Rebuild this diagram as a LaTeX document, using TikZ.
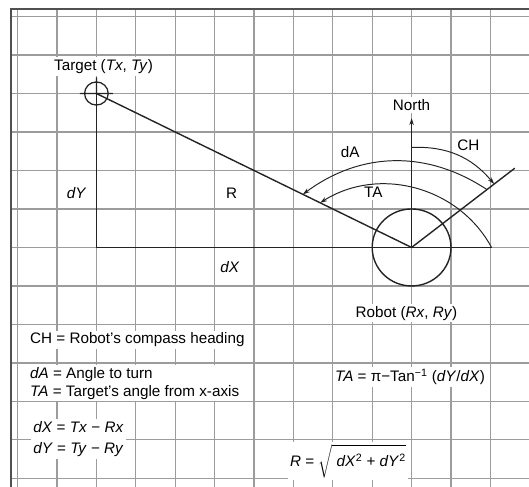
\documentclass[tikz,border=0pt]{standalone}
\usepackage{fontspec}
\setmainfont{Liberation Sans}
\usetikzlibrary{calc,arrows.meta}
\definecolor{gridgray}{HTML}{9C9C9C}
\definecolor{framegray}{HTML}{505050}
\definecolor{ink}{HTML}{232323}
\tikzset{lbl/.style={fill=white,inner sep=1.5pt,font=\fontsize{11}{13}\selectfont},
  tip/.style={-{Stealth[length=5pt,width=3.2pt]}},
  arcline/.style={ink,line width=.7pt}}

\begin{document}
\begin{tikzpicture}[x=1cm,y=0.977cm]
\useasboundingbox (-1.447,-11.22) rectangle (11.98,1.429);
\fill[white] (-1.447,-11.22) rectangle (11.98,1.429);
% grid paper
\foreach \u in {-1,...,11}{\draw[gridgray,line width=.8pt] (\u,1.195)--(\u,-11.22);}
\foreach \v in {1,0,...,-11}{\draw[gridgray,line width=.8pt] (-1.168,\v)--(11.98,\v);}
\draw[framegray,line width=1.8pt] (-1.168,-11.22)--(-1.168,1.195)--(11.98,1.195);
% labels
\node[lbl] (tgt) at (1.18,-.30) {Target (\textit{Tx}, \textit{Ty})};
\node[lbl] (dy) at (.5,-3.59) {\textit{dY}};
\node[lbl] (r) at (4.43,-3.59) {R};
\node[lbl] (dx) at (4.39,-5.5) {\textit{dX}};
\node[lbl] (dal) at (7.44,-2.51) {dA};
\node[lbl] (tal) at (8.03,-3.57) {TA};
\node[lbl] (chl) at (10.44,-2.34) {CH};
\node[lbl] (north) at (9,-1.30) {North};
\node[lbl] (robot) at (8.87,-6.71) {Robot (\textit{Rx}, \textit{Ry})};
\node[lbl,anchor=west] (leg1) at (-.74,-7.40) {CH = Robot's compass heading};
\node[lbl,anchor=west,align=left] (leg2) at (-.74,-8.525) {\textit{dA} = Angle to turn\\\textit{TA} = Target's angle from x-axis};
\node[lbl,anchor=west,align=left] (leg3) at (-.66,-9.98) {\textit{dX} = \textit{Tx} − \textit{Rx}\\[2.6pt]\textit{dY} = \textit{Ty} − \textit{Ry}};
\node[lbl] (fta) at (8.96,-8.36) {\textit{TA} = π−Tan\textsuperscript{−1} (\textit{dY}/\textit{dX})};
\node[lbl,anchor=west] (fr) at (5.86,-10.55) {\textit{R} = $\sqrt{\rule[-6pt]{0pt}{19pt}\;\mbox{\textit{dX}\textsuperscript{2} + \textit{dY}\textsuperscript{2}}}$};
% geometry
\coordinate (T) at (1,-1);
\coordinate (C) at (1,-5);
\coordinate (Rb) at (9,-5);
\coordinate (N) at (9,-1.64);
\coordinate (H) at (11.62,-2.94);
\coordinate (E) at (11.03,-5);
\coordinate (ta) at ($(Rb)!.29!(T)$);
\coordinate (da) at ($(Rb)!.345!(T)$);
\coordinate (dh) at ($(Rb)!.73!(H)$);
\coordinate (ch) at ($(Rb)!.8!(H)$);
\coordinate (cn) at (9,-2.4);
\draw[ink,line width=1pt] (T)--(C)--(E);
\draw[ink,line width=1pt] (T)--(Rb)--(H);
\draw[ink,line width=1pt,tip] (Rb)--(N);
\draw[ink,line width=1pt] (Rb) circle (1);
\draw[ink,line width=.9pt] (T) circle (.3) ($(T)+(-.42,0)$)--($(T)+(.42,0)$) ($(T)+(0,.42)$)--(T);
% angles
\draw[arcline,tip] (E) to[bend right=47] (ta);
\draw[arcline,tip] (dh) to[bend right=35] (da);
\draw[arcline,tip] (cn) to[bend left=26] (ch);
\end{tikzpicture}
\end{document}
